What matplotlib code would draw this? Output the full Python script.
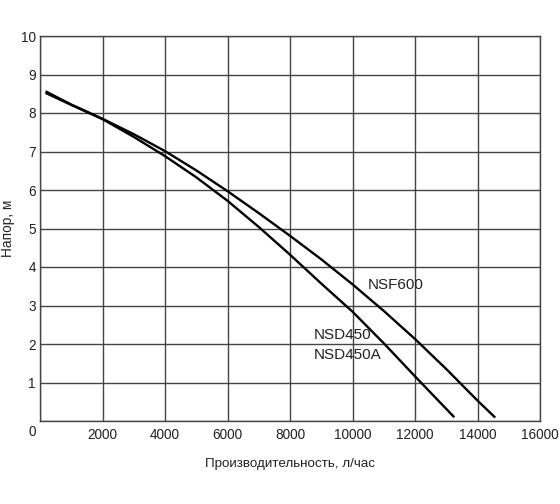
import matplotlib
matplotlib.use("Agg")
import matplotlib.pyplot as plt
import matplotlib.transforms as mtransforms

plt.rcParams["font.family"] = ["Liberation Sans", "DejaVu Sans"]

# pump curves (flow l/h, head m)
nsf600_flow = [210, 1000, 2000, 3000, 4000, 5000, 6000, 7000, 8000, 9000, 10000, 11000, 12000, 13000, 14000, 14540]
nsf600_head = [8.55, 8.22, 7.85, 7.45, 7.01, 6.51, 5.97, 5.40, 4.81, 4.20, 3.55, 2.86, 2.13, 1.35, 0.53, 0.11]

nsd450_flow = [210, 1000, 2000, 3000, 4000, 5000, 6000, 7000, 8000, 9000, 10000, 11000, 12000, 13230]
nsd450_head = [8.51, 8.21, 7.84, 7.38, 6.88, 6.33, 5.72, 5.04, 4.32, 3.57, 2.84, 2.02, 1.16, 0.12]

x_ticks = [0, 2000, 4000, 6000, 8000, 10000, 12000, 14000, 16000]
y_ticks = [0, 1, 2, 3, 4, 5, 6, 7, 8, 9, 10]

fig = plt.figure(figsize=(5.6, 5.04), dpi=100)
ax = fig.add_axes([40 / 560, 1 - 421 / 504, 500 / 560, 385 / 504])

ax.plot(nsf600_flow, nsf600_head, color="black", lw=1.7)
ax.plot(nsd450_flow, nsd450_head, color="black", lw=1.7)

ax.set_xlim(0, 16000)
ax.set_ylim(0, 10)
ax.set_xticks(x_ticks)
ax.set_xticklabels([""] + [str(t) for t in x_ticks[1:]])
ax.set_yticks(y_ticks)
ax.grid(True, color="#444444", lw=1.0)
ax.tick_params(axis="x", length=0, labelsize=9.8, colors="#222222", pad=5)
ax.tick_params(axis="y", length=0, labelsize=9.8, colors="#222222", pad=3)
for s in ax.spines.values():
    s.set_color("#444444")
    s.set_linewidth(1.0)

# origin "0" sits lower in the reference
lbl0 = ax.get_yticklabels()[0]
lbl0.set_transform(lbl0.get_transform() + mtransforms.ScaledTranslation(0, -7 / 72, fig.dpi_scale_trans))

ax.text(10500, 3.53, "NSF600", fontsize=11, va="center", ha="left", color="#222222")
ax.text(8745, 2.23, "NSD450", fontsize=11, va="center", ha="left", color="#222222")
ax.text(8745, 1.71, "NSD450A", fontsize=11, va="center", ha="left", color="#222222")

ax.set_xlabel("Производительность, л/час", fontsize=9.6, color="#222222")
ax.xaxis.set_label_coords(0.5, (421 - 458) / 385)
fig.text(8 / 560, 1 - 228 / 504, "Напор, м", rotation=90, fontsize=9.8,
         color="#222222", ha="center", va="center")

fig.savefig("out.png", dpi=100)
